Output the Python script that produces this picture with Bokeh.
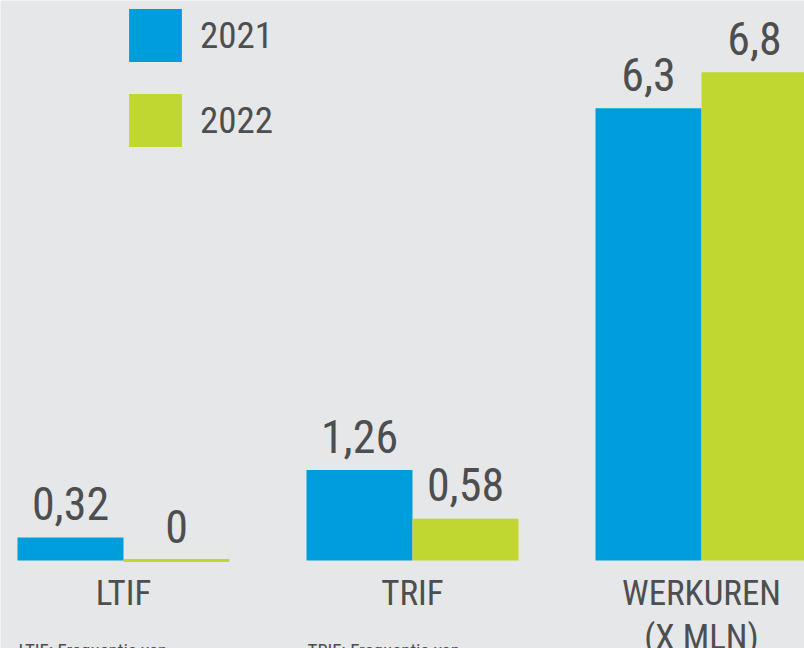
from bokeh.plotting import figure
from bokeh.models import ColumnDataSource, Legend, LegendItem, Range1d
from bokeh.transform import dodge
from bokeh.core.properties import value
from bokeh.embed import file_html
from bokeh.resources import INLINE

# ---- data ----
categories = ["LTIF", "TRIF", "WERKUREN\n(X MLN)"]
years = ["2021", "2022"]
values_2021 = [0.32, 1.26, 6.3]
values_2022 = [0.0, 0.58, 6.8]
labels_2021 = ["0,32", "1,26", "6,3"]
labels_2022 = ["0", "0,58", "6,8"]
footnotes = ["LTIF: Frequentie van", "TRIF: Frequentie van"]

# ---- style ----
BLUE = "#009ddc"
LIME = "#bfd730"
BG = "#e6e7e9"
TEXT = "#4d4e50"
FONT = "Roboto Condensed, DejaVu Sans Condensed, Liberation Sans Narrow, sans-serif"

W, H = 804, 648
STEP = 289.0      # px per category
X0 = 123.0        # px of first category centre
SCALE = 71.8      # px per unit
BASE = 88.0       # px below baseline
BW = 106.0 / STEP

p = figure(width=W, height=H, output_backend="svg", toolbar_location=None,
           x_range=Range1d(-X0 / STEP, (W - X0) / STEP),
           y_range=Range1d(-BASE / SCALE, (H - BASE) / SCALE),
           x_axis_type=None, y_axis_type=None, min_border=0,
           background_fill_color=BG, border_fill_color=BG,
           outline_line_color=None)
p.grid.visible = False

idx = list(range(len(categories)))
src = ColumnDataSource(dict(
    x=idx, cat=categories,
    v21=values_2021, v22=values_2022,
    l21=labels_2021, l22=labels_2022,
    a21=[1.0 if v == 0 else 0.0 for v in values_2021],
    a22=[1.0 if v == 0 else 0.0 for v in values_2022],
))

r21 = p.vbar(x=dodge("x", -BW / 2), top="v21", bottom=0, width=BW, source=src,
             fill_color=BLUE, line_color=BLUE, line_alpha="a21", line_width=3)
r22 = p.vbar(x=dodge("x", BW / 2), top="v22", bottom=0, width=BW, source=src,
             fill_color=LIME, line_color=LIME, line_alpha="a22", line_width=3)

common = dict(text_font=value(FONT), text_color=TEXT, source=src)
p.text(x=dodge("x", -BW / 2), y="v21", text="l21", text_align="center",
       text_baseline="alphabetic", y_offset=-34, text_font_size="46px", **common)
p.text(x=dodge("x", BW / 2), y="v22", text="l22", text_align="center",
       text_baseline="alphabetic", y_offset=-34, text_font_size="46px", **common)

p.text(x="x", y=0, text="cat", text_align="center", text_baseline="top",
       y_offset=12, text_font_size="35px", text_line_height=1.09, **common)

fsrc = ColumnDataSource(dict(fx=idx[:len(footnotes)], ft=footnotes,
                             fy=[0] * len(footnotes)))
p.text(x=dodge("fx", -BW), y="fy", text="ft", source=fsrc, text_align="left",
       text_baseline="top", x_offset=1, y_offset=78, text_font_size="19px",
       text_font=value(FONT), text_color=TEXT)

legend = Legend(
    items=[LegendItem(label=years[0], renderers=[r21], index=1),
           LegendItem(label=years[1], renderers=[r22], index=1)],
    location=(122, 495), orientation="vertical",
    glyph_width=66, glyph_height=66, label_height=66, label_width=60,
    label_standoff=12, spacing=19, padding=0, margin=0,
    border_line_color=None, background_fill_alpha=0,
    label_text_font=FONT, label_text_font_size="37px",
    label_text_color=TEXT, label_text_baseline="middle")
p.add_layout(legend)

open("out.html", "w").write(file_html(p, INLINE))
